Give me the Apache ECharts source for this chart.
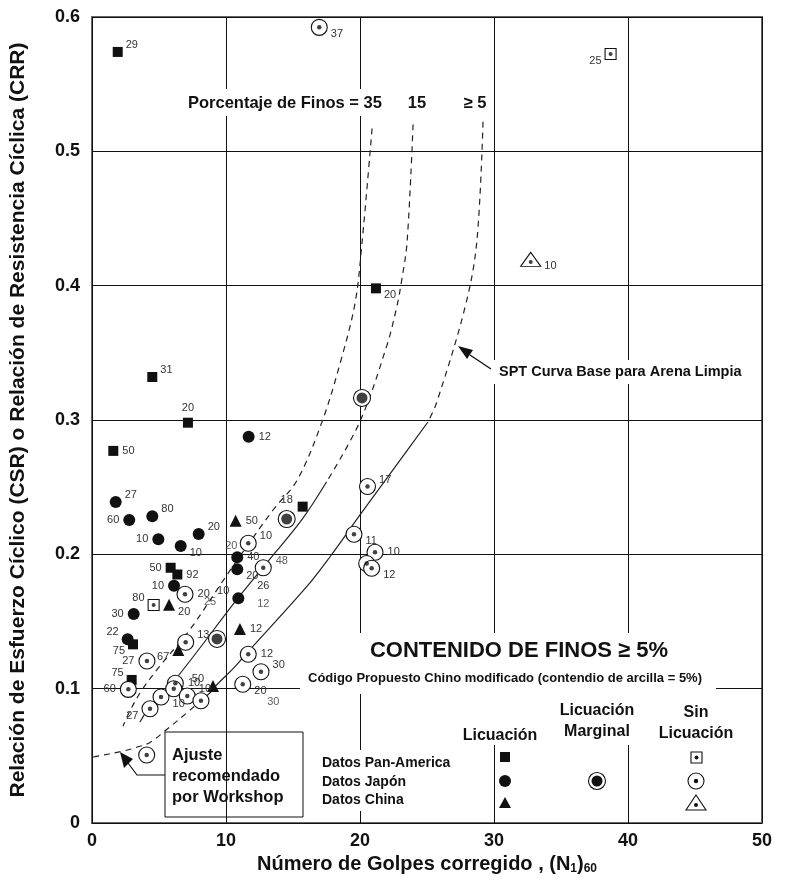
<!DOCTYPE html>
<html><head><meta charset="utf-8">
<script src="https://cdn.jsdelivr.net/npm/echarts@6/dist/echarts.min.js"></script>
<style>html,body{margin:0;padding:0;background:#fff}#c{width:785px;height:882px}</style>
</head><body><div id="c"></div>
<script>
// ---------- DATA (N1)60 , CRR ----------
const panLiq = [[1.92,0.574],[4.50,0.332],[7.16,0.298],[1.59,0.277],[21.19,0.398],[15.72,0.2355],[5.87,0.190],[6.37,0.185],[3.06,0.133],[2.96,0.1065]];
const panLiqFines = ['29','31','20','50','20','','50','92','75','75'];
const panLiqLabelAt = ['tr','tr','t','r','br','','l','r','bl','tl'];

const japLiq = [[11.69,0.2876],[1.77,0.239],[2.78,0.2256],[4.50,0.2283],[4.95,0.2112],[6.62,0.2062],[7.96,0.2151],[6.12,0.1767],[3.11,0.1556],[2.66,0.1368],[10.84,0.1978],[10.84,0.1889],[10.92,0.1673]];
const japLiqFines = ['12','27','60','80','10','10','20','10','30','22','40','20','10'];
const japLiqLabelAt = ['r','tr','l','tr','l','br','tr','l','l','tl','r','br','tl'];

const chiLiq = [[10.72,0.2250],[5.75,0.1625],[6.44,0.1288],[11.04,0.1444],[9.03,0.102]];
const chiLiqFines = ['50','20','67','12','50'];
const chiLiqLabelAt = ['r','br','bl','r','tl'];

const marginal = [[20.15,0.3164],[14.53,0.2263],[9.33,0.137]];
const marginalFines = ['','18',''];
const marginalLabelAt = ['','t',''];

const panNoLiq = [[38.7,0.5725],[4.60,0.1623]];
const panNoLiqFines = ['25','80'];
const panNoLiqLabelAt = ['bl','tl'];

const japNoLiq = [[16.96,0.5923],[11.66,0.2082],[6.94,0.1703],[12.78,0.1900],[19.55,0.2149],[20.56,0.2505],[21.12,0.2015],[20.50,0.1932],[20.87,0.1896],[6.99,0.1345],[4.10,0.1206],[2.71,0.0995],[4.33,0.0851],[5.15,0.0938],[6.22,0.1040],[6.10,0.0999],[7.11,0.0945],[8.13,0.0910],[11.66,0.1256],[12.61,0.1126],[11.25,0.1033],[4.08,0.0506]];
const japNoLiqFines = ['37','10','20','26','11','17','10','','12','13','27','60','27','10','10','','10','','12','30','20',''];
const japNoLiqLabelAt = ['br','tr','r','b','br','tr','r','','br','tr','l','l','bl','br','r','','tr','','r','tr','br',''];

const chiNoLiq = [[32.74,0.4196]];
const chiNoLiqFines = ['10'];
const chiNoLiqLabelAt = ['br'];

// loose fines-content labels
const looseNotes = [[10.40,0.2062,'20'],[12.78,0.163,'12'],[14.16,0.1953,'48'],[8.81,0.1647,'25'],[13.53,0.0899,'30']];

// curves
const curveFC35 = [[20.90,0.517],[20.15,0.432],[19.63,0.387],[18.51,0.342],[17.16,0.2985],[15.30,0.255],[13.51,0.233],[10.30,0.188],[7.31,0.144],[5.00,0.116],[3.66,0.098],[2.76,0.082],[2.31,0.072]];
const curveFC15Dashed = [[23.96,0.520],[23.51,0.432],[23.11,0.404],[22.74,0.384],[21.99,0.355],[20.0,0.299],[17.51,0.254]];
const curveFC15Solid = [[17.51,0.254],[15.65,0.2256],[13.04,0.1936],[10.9,0.1675],[6.19,0.1065],[4.33,0.0866],[3.58,0.0752]];
const curveFC5Dashed = [[29.18,0.522],[28.71,0.432],[27.84,0.384],[25.72,0.313],[25.07,0.2985]];
const curveFC5Solid = [[25.07,0.2985],[22.46,0.2628],[20.0,0.2293],[17.76,0.1982],[16.02,0.1759],[11.54,0.1263],[10.67,0.1164],[9.18,0.1015],[8.88,0.0975]];
const curveWorkshop = [[8.88,0.0975],[7.31,0.0840],[5.50,0.0690],[4.33,0.0600],[3.21,0.0560],[2.31,0.0535],[0.22,0.0494],[0,0.049]];

// ---------- RENDER ----------
const FONT = '"Liberation Sans", Arial, sans-serif';
const INK = '#111';
const LABEL_AT = {r:['right',[0,0]], l:['left',[0,0]], t:['top',[0,0]], b:['bottom',[0,0]],
  tr:['right',[-1,-7]], tl:['left',[1,-7]], br:['right',[-1,7]], bl:['left',[1,7]]};

function items(pts, fines, at){
  return pts.map((p,i)=>{
    const it = {value:p};
    const t = fines ? fines[i] : '';
    if (t) { const L = LABEL_AT[at[i]]; it.label = {show:true, formatter:t, position:L[0], offset:L[1]}; }
    return it;
  });
}
const lbl = {show:false, fontSize:11, color:'#333', fontFamily:FONT, distance:4};

function filled(name, pts, fines, at, symbol, size){
  return {type:'scatter', name, data:items(pts,fines,at), symbol, symbolSize:size,
    itemStyle:{color:INK, opacity:1}, label:lbl, z:5};
}
function ring(name, pts, fines, at, symbol, size){
  return {type:'scatter', name, data:items(pts,fines,at), symbol, symbolSize:size,
    itemStyle:{color:'#fff', borderColor:INK, borderWidth:1.1, opacity:1}, label:lbl, z:5};
}
function dot(pts, size){
  return {type:'scatter', data:pts, symbol:'circle', symbolSize:size, itemStyle:{color:INK}, z:6, silent:true};
}
function curve(pts, dashed){
  return {type:'line', data:pts, symbol:'none', smooth:0.35, z:3, silent:true,
    lineStyle:{color:'#222', width:1.2, type: dashed ? [6,5] : 'solid'}};
}

const series = [
  curve(curveFC35, true), curve(curveFC15Dashed, true), curve(curveFC15Solid, false),
  curve(curveFC5Dashed, true), curve(curveFC5Solid, false), curve(curveWorkshop, true),
  filled('Pan-America licuación', panLiq, panLiqFines, panLiqLabelAt, 'rect', 10),
  filled('Japón licuación', japLiq, japLiqFines, japLiqLabelAt, 'circle', 12),
  filled('China licuación', chiLiq, chiLiqFines, chiLiqLabelAt, 'triangle', 12),
  ring('Marginal', marginal, marginalFines, marginalLabelAt, 'circle', 17), dot(marginal, 11),
  ring('Pan-America sin licuación', panNoLiq, panNoLiqFines, panNoLiqLabelAt, 'rect', 11), dot(panNoLiq, 4),
  ring('Japón sin licuación', japNoLiq, japNoLiqFines, japNoLiqLabelAt, 'circle', 16), dot(japNoLiq, 4.5),
  ring('China sin licuación', chiNoLiq, chiNoLiqFines, chiNoLiqLabelAt, 'triangle', [20,14]), dot(chiNoLiq.map(p=>[p[0],p[1]-0.002]), 4),
  {type:'scatter', data:looseNotes.map(n=>({value:[n[0],n[1]], label:{formatter:n[2]}})), symbolSize:0,
    label:{show:true, position:'inside', fontSize:11, color:'#333', fontFamily:FONT}, z:5, silent:true}
];

function T(x,y,text,size,opt){
  opt = opt || {};
  return {type:'text', x, y, z:10, style:Object.assign({text, fill:INK,
    font:'bold '+size+'px '+FONT, align:opt.align||'left', verticalAlign:'middle',
    textAlign:opt.align||'left', textVerticalAlign:'middle'}, opt.style||{})};
}
function W(x,y,w,h){ return {type:'rect', z:1, shape:{x,y,width:w,height:h}, style:{fill:'#fff'}}; }

const graphic = [
  W(186,89,306,27), W(494,360,254,24), W(300,633,416,61), W(440,694,305,51), W(318,750,142,61),
  T(188,103,'Porcentaje de Finos = 35',16.5),
  T(417,103,'15',16.5,{align:'center'}),
  T(475,103,'≥ 5',16.5,{align:'center'}),
  T(499,372,'SPT Curva Base para Arena Limpia',14.5),
  T(519,651,'CONTENIDO DE FINOS ≥ 5%',22,{align:'center'}),
  T(505,678,'Código Propuesto Chino modificado (contendio de arcilla = 5%)',13,{align:'center'}),
  T(500,736,'Licuación',16,{align:'center'}),
  T(597,711,'Licuación',16,{align:'center'}),
  T(597,732,'Marginal',16,{align:'center'}),
  T(696,713,'Sin',16,{align:'center'}),
  T(696,734,'Licuación',16,{align:'center'}),
  T(322,763,'Datos Pan-America',14),
  T(322,782,'Datos Japón',14),
  T(322,800,'Datos China',14),
  T(172,755,'Ajuste',16.5),
  T(172,776,'recomendado',16.5),
  T(172,797,'por Workshop',16.5),
  {type:'rect', z:10, shape:{x:165,y:732,width:138,height:85}, style:{fill:'none', stroke:INK, lineWidth:1}},
  // workshop arrow
  {type:'polyline', z:10, shape:{points:[[165,775],[137,775],[128,763]]}, style:{stroke:INK, lineWidth:1.2, fill:'none'}},
  {type:'polygon', z:10, shape:{points:[[120,752],[133,759],[124,768]]}, style:{fill:INK}},
  // SPT arrow
  {type:'polyline', z:10, shape:{points:[[491,369],[470,355]]}, style:{stroke:INK, lineWidth:1.4, fill:'none'}},
  {type:'polygon', z:10, shape:{points:[[458,346],[473,350],[467,359]]}, style:{fill:INK}},
  // legend symbols
  {type:'rect', z:10, shape:{x:500,y:752,width:10,height:10}, style:{fill:INK}},
  {type:'circle', z:10, shape:{cx:505,cy:781,r:6}, style:{fill:INK}},
  {type:'polygon', z:10, shape:{points:[[505,797],[511,808],[499,808]]}, style:{fill:INK}},
  {type:'circle', z:10, shape:{cx:597,cy:781,r:8.5}, style:{fill:'#fff', stroke:INK, lineWidth:1.1}},
  {type:'circle', z:11, shape:{cx:597,cy:781,r:5.5}, style:{fill:INK}},
  {type:'rect', z:10, shape:{x:691,y:752,width:11,height:11}, style:{fill:'#fff', stroke:INK, lineWidth:1.1}},
  {type:'circle', z:11, shape:{cx:696.5,cy:757.5,r:2}, style:{fill:INK}},
  {type:'circle', z:10, shape:{cx:696,cy:781,r:8}, style:{fill:'#fff', stroke:INK, lineWidth:1.1}},
  {type:'circle', z:11, shape:{cx:696,cy:781,r:2.2}, style:{fill:INK}},
  {type:'polygon', z:10, shape:{points:[[696,795],[706,810],[686,810]]}, style:{fill:'#fff', stroke:INK, lineWidth:1.1}},
  {type:'circle', z:11, shape:{cx:696,cy:805,r:2}, style:{fill:INK}}
];

const chart = echarts.init(document.getElementById('c'), null, {renderer:'canvas'});
chart.setOption({
  animation:false,
  backgroundColor:'#fff',
  textStyle:{fontFamily:FONT},
  grid:{left:92, top:17, width:670, height:806, show:true, borderColor:'#666', borderWidth:2,
    backgroundColor:'transparent', containLabel:false, outerBoundsMode:'none'},
  xAxis:{type:'value', min:0, max:50, interval:10,
    axisLine:{show:false}, axisTick:{show:false},
    splitLine:{show:true, lineStyle:{color:INK, width:1}},
    axisLabel:{fontSize:18, fontWeight:'bold', color:INK, margin:9, fontFamily:FONT},
    name:'{a|Número de Golpes corregido , (N}{s|1}{a|)}{s|60}', nameLocation:'middle', nameGap:21,
    nameTextStyle:{rich:{a:{fontSize:20, fontWeight:'bold', color:INK, fontFamily:FONT, lineHeight:24, verticalAlign:'bottom'},
                         s:{fontSize:12, fontWeight:'bold', color:INK, fontFamily:FONT, lineHeight:24, verticalAlign:'bottom'}}}
  },
  yAxis:{type:'value', min:0, max:0.6, interval:0.1,
    axisLine:{show:false}, axisTick:{show:false},
    splitLine:{show:true, lineStyle:{color:INK, width:1}},
    axisLabel:{fontSize:18, fontWeight:'bold', color:INK, margin:12, fontFamily:FONT},
    name:'Relación de Esfuerzo Cíclico (CSR) o Relación de Resistencia Cíclica (CRR)',
    nameLocation:'middle', nameGap:63, nameRotate:90,
    nameTextStyle:{fontSize:21, fontWeight:'bold', color:INK, fontFamily:FONT}
  },
  series,
  graphic
});
</script></body></html>
